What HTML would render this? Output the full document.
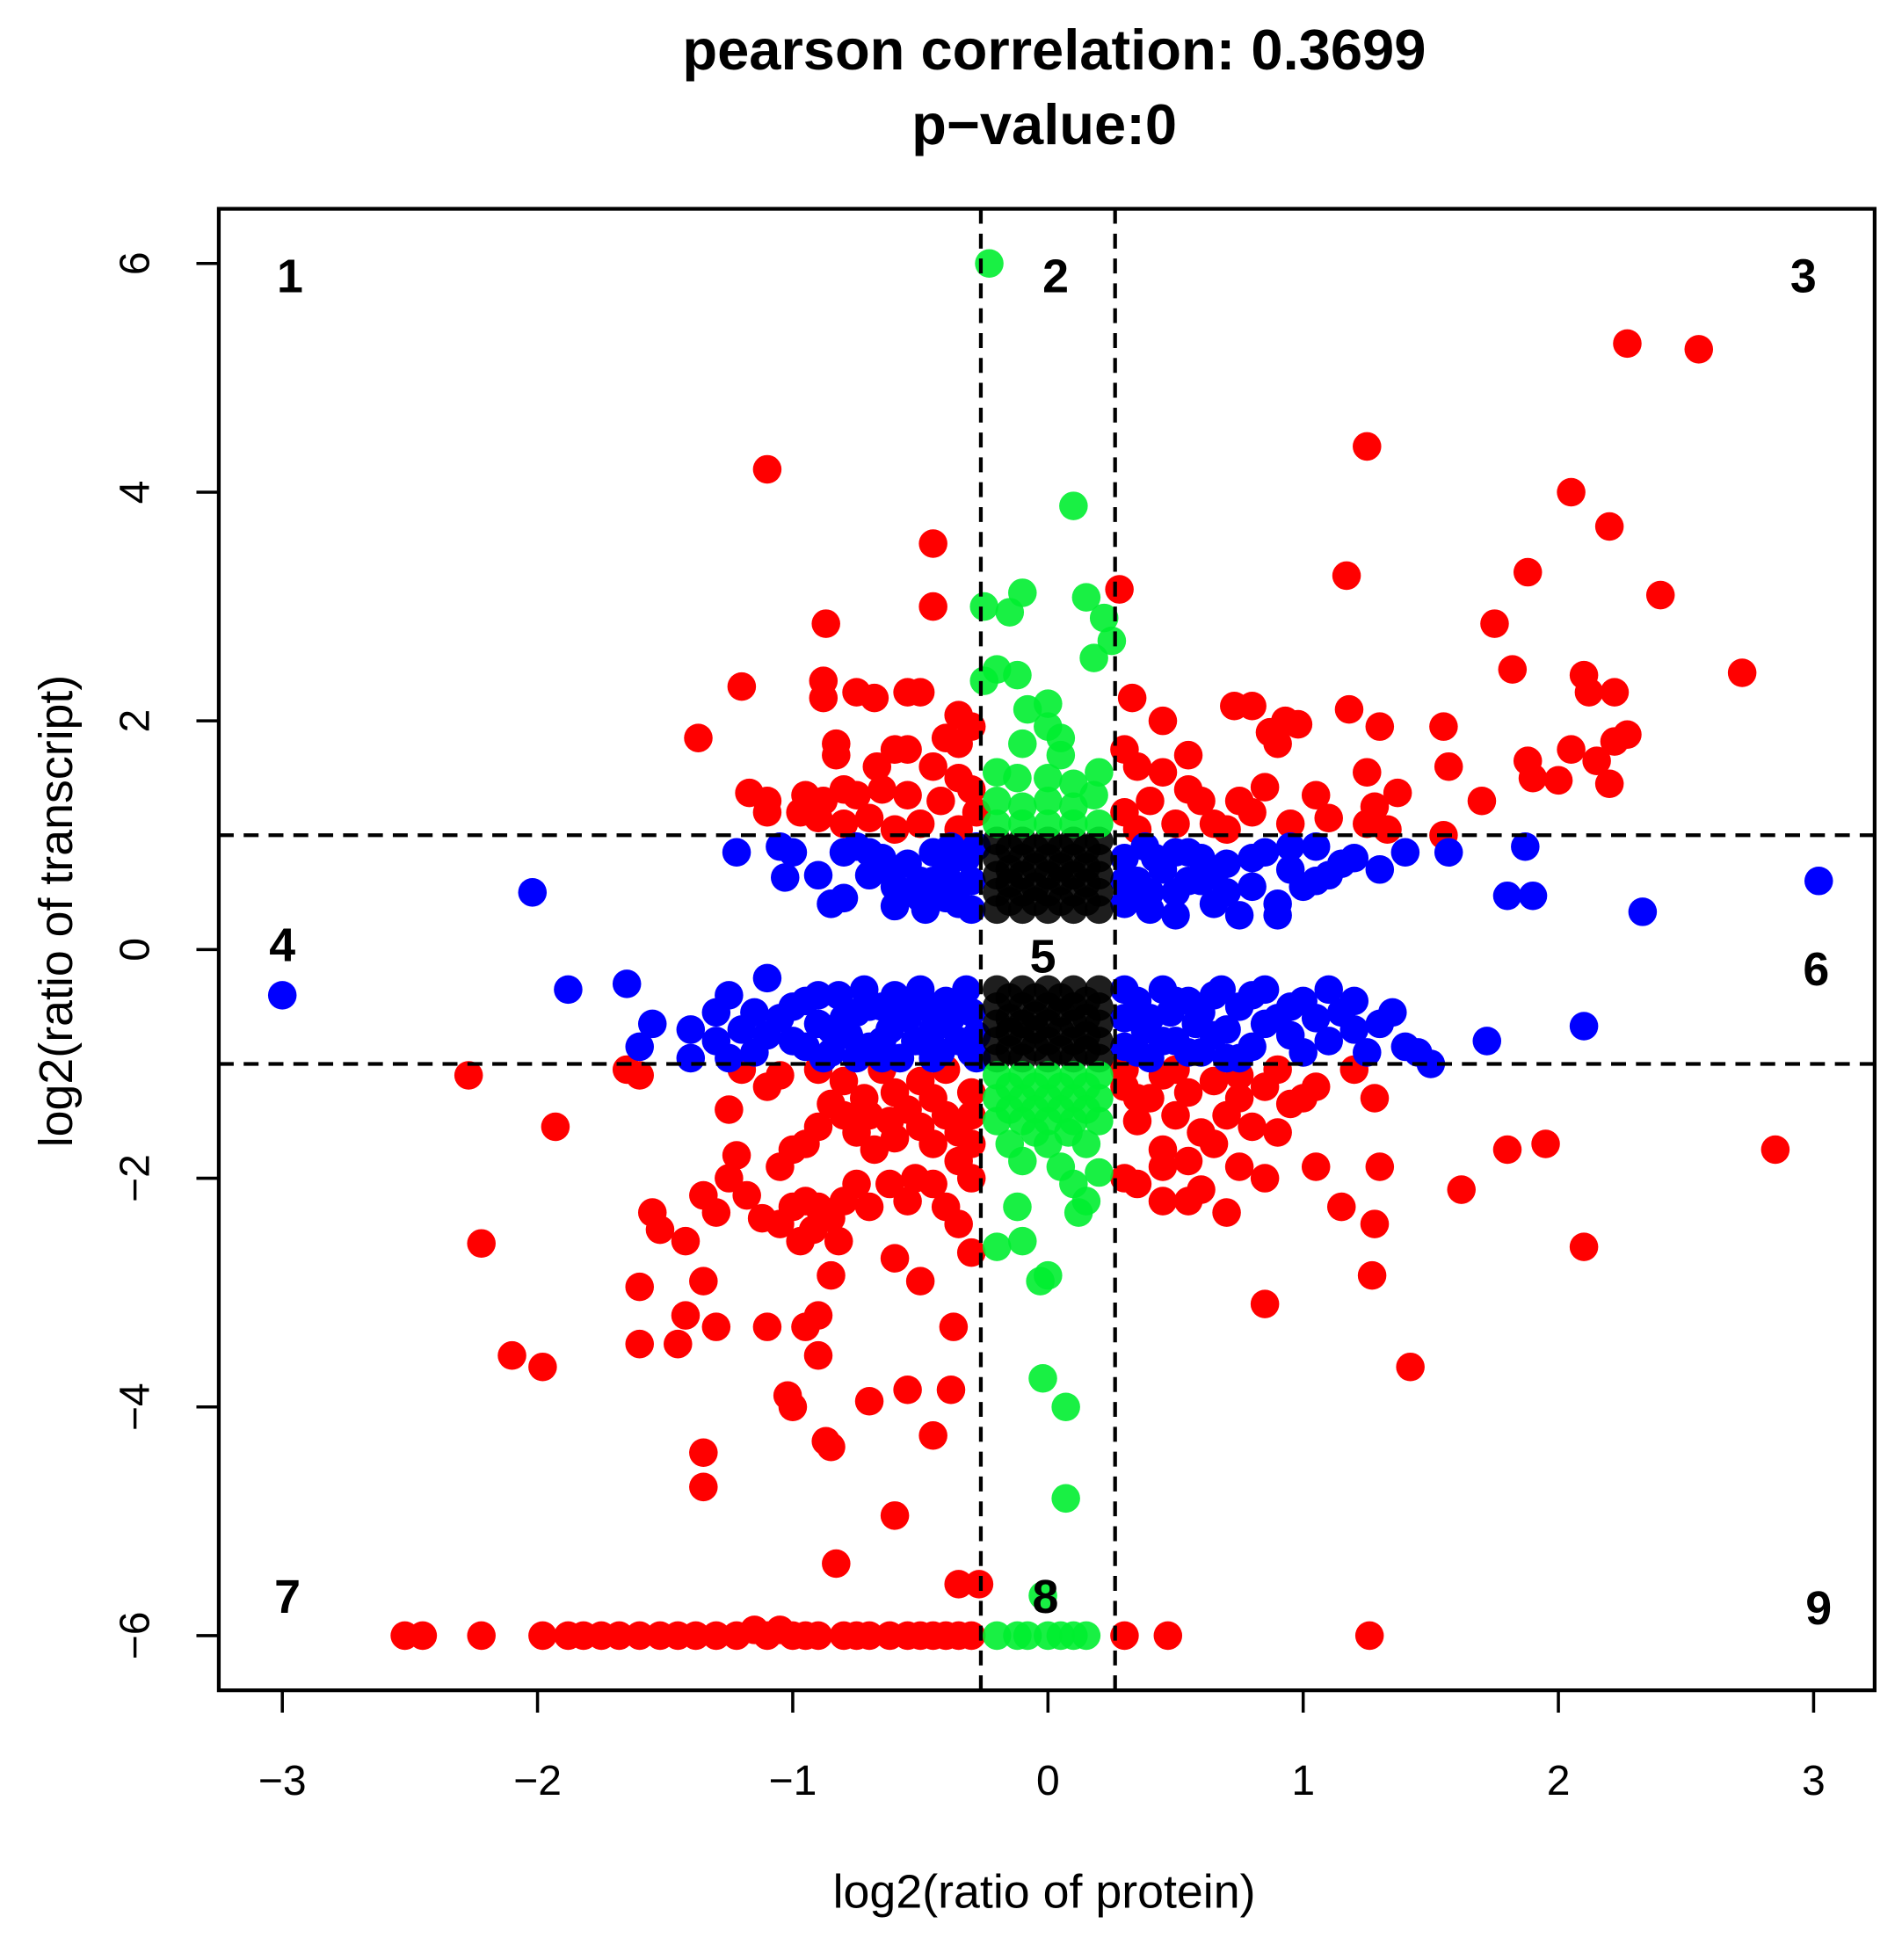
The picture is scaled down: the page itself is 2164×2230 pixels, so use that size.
<!DOCTYPE html>
<html><head><meta charset="utf-8"><style>
html,body{margin:0;padding:0;background:#fff}
svg{display:block}
text{font-family:"Liberation Sans",Arial,sans-serif;fill:#000}
</style></head><body>
<svg id="chart" width="2164" height="2230" viewBox="0 0 1530 1577" preserveAspectRatio="none" xmlns="http://www.w3.org/2000/svg">
<rect width="1530" height="1577" fill="#fff"/>
<text x="848" y="56" font-size="46" font-weight="bold" text-anchor="middle">pearson correlation: 0.3699</text>
<text x="840" y="116" font-size="46" font-weight="bold" text-anchor="middle">p−value:0</text>
<g id="marks"></g>
<g id="axes"></g>
<text x="840" y="1535" font-size="38" text-anchor="middle">log2(ratio of protein)</text>
<text transform="translate(58,733) rotate(-90)" font-size="38" text-anchor="middle">log2(ratio of transcript)</text>
</svg>
<script>
const xTicks=[-3,-2,-1,0,1,2,3];
const yTicks=[-6,-4,-2,0,2,4,6];
const xTickLabels=["−3","−2","−1","0","1","2","3"];
const yTickLabels=["−6","−4","−2","0","2","4","6"];
const xCut=[-0.263,0.263];
const yCut=[-1,1];
const regionLabels=["1","2","3","4","5","6","7","8","9"];
const regionX=[-2.97,0.03,2.96,-3.0,-0.02,3.01,-2.98,-0.01,3.02];
const regionY=[5.9,5.9,5.9,0.05,-0.05,-0.16,-5.65,-5.65,-5.75];
const redPts=[[-1.1,4.2],[-0.45,3.55],[-0.45,3.0],[-0.87,2.85],[-1.2,2.3],[-0.88,2.35],[-0.88,2.2],[-0.75,2.25],[-0.68,2.2],[-0.55,2.25],[-0.5,2.25],[-1.37,1.85],[-0.35,2.05],[-0.3,1.95],[-0.4,1.85],[-0.35,1.8],[-0.83,1.8],[-0.83,1.7],[-0.6,1.75],[-0.55,1.75],[-0.67,1.6],[-0.45,1.6],[-0.35,1.5],[-1.17,1.37],[-1.1,1.3],[-0.95,1.35],[-0.88,1.3],[-0.8,1.4],[-0.75,1.35],[-0.65,1.4],[-0.55,1.35],[-0.42,1.3],[-0.3,1.4],[-0.9,1.15],[-0.8,1.1],[-0.7,1.15],[-0.6,1.05],[-0.5,1.1],[-0.35,1.05],[-0.28,1.2],[-1.1,1.2],[-0.97,1.2],
[1.25,4.4],[2.27,5.3],[2.55,5.25],[2.05,4.0],[2.2,3.7],[1.17,3.27],[1.88,3.3],[2.4,3.1],[0.28,3.15],[1.75,2.85],[1.82,2.45],[2.72,2.42],[2.1,2.4],[2.12,2.25],[2.22,2.25],[0.33,2.2],[0.45,2.0],[0.73,2.13],[0.8,2.13],[0.93,2.0],[0.98,1.97],[1.18,2.1],[1.3,1.95],[1.55,1.95],[0.55,1.7],[0.87,1.9],[0.9,1.8],[2.05,1.75],[2.27,1.88],[2.22,1.82],[2.15,1.65],[1.88,1.65],[1.9,1.5],[1.57,1.6],[1.25,1.55],[2.0,1.48],[2.2,1.45],[1.37,1.37],[1.7,1.3],[1.28,1.25],[1.05,1.35],[0.85,1.42],[0.3,1.75],[0.35,1.6],[0.45,1.55],[0.55,1.4],[0.6,1.3],[0.75,1.3],[0.8,1.2],[0.3,1.2],[0.4,1.3],[0.5,1.1],[0.65,1.1],[0.7,1.05],[0.95,1.1],[1.25,1.1],[1.33,1.05],[1.55,1.0],[1.1,1.15],[0.35,1.05],
[-2.27,-1.1],[-1.93,-1.55],[-1.6,-1.1],[-1.65,-1.05],[-1.55,-2.3],[-1.52,-2.45],[-1.42,-2.55],[-1.35,-2.15],[-1.3,-2.3],[-1.25,-2.0],[-1.22,-1.8],[-1.25,-1.4],[-1.1,-1.2],[-1.05,-1.9],[-1.0,-1.75],[-0.95,-1.7],[-0.9,-1.55],[-0.85,-1.35],[-0.8,-1.45],[-0.75,-1.6],[-0.72,-1.3],[-0.68,-1.75],[-0.62,-1.5],[-0.6,-1.25],[-0.55,-1.4],[-0.5,-1.55],[-0.45,-1.7],[-0.4,-1.45],[-0.35,-1.6],[-0.3,-1.25],[-0.35,-1.85],[-0.45,-2.05],[-0.52,-2.0],[-0.55,-2.2],[-0.62,-2.05],[-0.7,-2.25],[-0.75,-2.05],[-0.8,-2.2],[-0.85,-2.35],[-0.9,-2.25],[-0.95,-2.2],[-1.0,-2.25],[-1.05,-2.4],[-1.12,-2.35],[-1.18,-2.15],[-0.4,-2.25],[-0.35,-2.4],[-0.3,-2.65],[-0.92,-2.45],[-0.82,-2.55],[-0.97,-2.55],[-2.22,-2.57],[-1.6,-2.95],[-1.35,-2.9],[-1.3,-3.3],[-1.42,-3.2],[-1.45,-3.45],[-1.6,-3.45],[-1.1,-3.3],[-0.95,-3.3],[-0.9,-3.2],[-0.9,-3.55],[-0.85,-2.85],[-0.6,-2.7],[-0.5,-2.9],[-0.37,-3.3],[-2.1,-3.55],[-1.98,-3.65],[-1.02,-3.9],[-1.0,-4.0],[-0.7,-3.95],[-0.55,-3.85],[-0.38,-3.85],[-0.87,-4.3],[-0.85,-4.35],[-0.45,-4.25],[-1.35,-4.4],[-1.35,-4.7],[-0.6,-4.95],[-0.83,-5.37],[-0.35,-5.55],[-0.27,-5.55],
[-1.2,-1.05],[-1.05,-1.1],[-0.9,-1.05],[-0.8,-1.15],[-0.65,-1.05],[-0.5,-1.15],[-0.4,-1.05],[-0.7,-1.45],[-0.6,-1.65],[-0.45,-1.3],[-0.3,-1.45],[-0.3,-1.7],[-0.3,-2.0],
[-2.52,-6],[-2.45,-6],[-2.22,-6],[-1.98,-6],[-1.88,-6],[-1.82,-6],[-1.75,-6],[-1.68,-6],[-1.6,-6],[-1.52,-6],[-1.45,-6],[-1.38,-6],[-1.3,-6],[-1.22,-6],[-1.15,-5.95],[-1.1,-6],[-1.05,-5.95],[-1.0,-6],[-0.95,-6],[-0.9,-6],[-0.8,-6],[-0.75,-6],[-0.7,-6],[-0.62,-6],[-0.55,-6],[-0.5,-6],[-0.45,-6],[-0.4,-6],[-0.35,-6],[-0.3,-6],[0.3,-6],[0.47,-6],[1.26,-6],
[0.3,-1.2],[0.35,-1.5],[0.3,-1.05],[0.4,-1.3],[0.45,-1.1],[0.5,-1.45],[0.55,-1.25],[0.6,-1.6],[0.65,-1.15],[0.7,-1.45],[0.75,-1.3],[0.8,-1.55],[0.85,-1.2],[0.9,-1.6],[0.95,-1.35],[1.05,-1.2],[1.2,-1.05],[0.45,-1.75],[0.55,-1.85],[0.65,-1.7],[0.75,-1.9],[0.85,-2.0],[0.35,-2.05],[0.45,-1.9],[0.3,-2.0],[0.6,-2.1],[0.55,-2.2],[0.45,-2.2],[0.7,-2.3],[1.05,-1.9],[1.15,-2.25],[1.3,-1.9],[1.28,-2.4],[1.28,-1.3],[1.27,-2.85],[0.85,-3.1],[1.42,-3.65],[1.62,-2.1],[1.8,-1.75],[1.95,-1.7],[2.1,-2.6],[2.85,-1.75],[0.35,-1.3],[0.5,-1.05],[0.75,-1.1],[0.9,-1.05],[1.0,-1.3]];
const bluePts=[[-2.02,0.5],[-1.22,0.85],[-1.05,0.9],[-1.0,0.85],[-1.03,0.63],[-0.9,0.65],[-0.85,0.4],[-0.8,0.45],[-0.8,0.85],[-0.75,0.9],[-0.7,0.65],[-0.65,0.8],[-0.6,0.55],[-0.6,0.38],[-0.55,0.75],[-0.55,0.5],[-0.5,0.6],[-0.48,0.35],[-0.45,0.85],[-0.4,0.7],[-0.4,0.45],[-0.35,0.55],[-0.32,0.8],[-0.3,0.35],[-0.28,0.9],[-0.3,0.6],[-0.45,0.6],[0.3,0.8],[0.3,0.4],[0.35,0.6],[0.38,0.9],[0.4,0.35],[0.45,0.7],[0.5,0.5],[0.55,0.85],[0.5,0.3],[0.6,0.6],[0.65,0.4],[0.7,0.75],[0.75,0.3],[0.8,0.55],[0.85,0.85],[0.9,0.4],[0.95,0.7],[1.0,0.55],[1.05,0.9],[1.1,0.65],[1.15,0.75],[1.3,0.7],[1.4,0.85],[1.57,0.85],[1.87,0.9],[1.8,0.47],[1.9,0.47],[2.33,0.33],[3.02,0.6],[0.9,0.3],[1.05,0.6],[0.3,0.6],[0.4,0.5],[0.5,0.85],[0.6,0.8],
[-0.35,0.4],[-0.38,0.9],[-0.5,0.45],[-0.62,0.7],[-0.7,0.85],[0.35,0.45],[0.42,0.8],[0.55,0.6],[0.7,0.5],[0.8,0.8],[0.95,0.9],[1.2,0.8],[0.65,0.65],
[-3.0,-0.4],[-1.88,-0.35],[-1.65,-0.3],[-1.6,-0.85],[-1.55,-0.65],[-1.4,-0.95],[-1.3,-0.55],[-1.25,-0.4],[-1.2,-0.7],[-1.15,-0.55],[-1.15,-0.9],[-1.1,-0.25],[-1.05,-0.6],[-1.0,-0.8],[-0.95,-0.45],[-0.9,-0.65],[-0.85,-0.9],[-0.82,-0.4],[-0.78,-0.75],[-0.75,-0.55],[-0.72,-0.35],[-0.7,-0.85],[-0.65,-0.5],[-0.62,-0.7],[-0.6,-0.4],[-0.58,-0.95],[-0.55,-0.6],[-0.52,-0.8],[-0.5,-0.35],[-0.48,-0.5],[-0.45,-0.7],[-0.42,-0.9],[-0.4,-0.45],[-0.38,-0.6],[-0.35,-0.8],[-0.32,-0.35],[-0.3,-0.55],[-0.28,-0.75],[-0.28,-0.95],[-0.45,-0.95],[-0.65,-0.95],[-0.8,-0.6],[-0.95,-0.85],[-0.6,-0.6],[-0.7,-0.5],[-0.5,-0.8],[-0.4,-0.65],[-0.35,-0.5],[-0.85,-0.7],[-1.3,-0.8],
[-1.0,-0.5],[-1.1,-0.75],[-0.9,-0.4],[-0.75,-0.95],[-0.55,-0.45],[-0.3,-0.9],[-0.45,-0.55],[-0.65,-0.8],[-1.4,-0.7],[-1.25,-0.95],[-0.88,-0.95],
[0.3,-0.35],[0.3,-0.6],[0.3,-0.85],[0.35,-0.45],[0.38,-0.7],[0.4,-0.95],[0.45,-0.35],[0.48,-0.55],[0.5,-0.8],[0.55,-0.45],[0.58,-0.65],[0.6,-0.9],[0.65,-0.4],[0.7,-0.7],[0.75,-0.5],[0.8,-0.85],[0.85,-0.35],[0.9,-0.6],[0.95,-0.75],[1.0,-0.45],[1.05,-0.6],[1.1,-0.35],[1.15,-0.55],[1.2,-0.7],[1.25,-0.9],[1.3,-0.65],[1.35,-0.55],[1.4,-0.85],[1.45,-0.9],[1.5,-1.0],[1.72,-0.8],[2.1,-0.67],[0.4,-0.6],[0.5,-0.45],[0.65,-0.75],[0.75,-0.95],[0.55,-0.9],[0.35,-0.9],
[0.45,-0.8],[0.6,-0.55],[0.7,-0.95],[0.8,-0.4],[0.85,-0.65],[1.0,-0.9],[1.1,-0.8],[1.2,-0.45],[0.95,-0.5],[0.68,-0.35]];
const greenPts=[[-0.23,6.0],[0.1,3.88],[-0.1,3.12],[-0.25,3.0],[0.15,3.08],[0.22,2.9],[0.25,2.7],[0.18,2.55],[-0.15,2.95],[-0.2,2.45],[-0.12,2.4],[-0.25,2.35],[0.0,2.15],[-0.08,2.1],[0.0,1.95],[-0.1,1.8],[0.05,1.7],[-0.2,1.55],[-0.12,1.5],[0.0,1.5],[0.1,1.45],[0.2,1.55],[-0.2,1.3],[-0.1,1.25],[0.0,1.3],[0.1,1.25],[0.18,1.35],[-0.2,1.1],[-0.1,1.1],[0.0,1.1],[0.1,1.1],[0.2,1.1],[0.05,1.85],
[-0.2,-1.1],[-0.1,-1.1],[0,-1.1],[0.1,-1.1],[0.2,-1.1],[-0.2,-1.3],[-0.1,-1.3],[0,-1.3],[0.1,-1.3],[0.2,-1.3],[-0.2,-1.5],[-0.1,-1.5],[0,-1.5],[0.1,-1.5],[0.2,-1.5],[-0.15,-1.7],[0,-1.7],[0.15,-1.7],[-0.1,-1.85],[0.05,-1.9],[0.2,-1.95],[0.1,-2.05],[0.15,-2.2],[0.12,-2.3],[-0.12,-2.25],[-0.2,-2.6],[-0.1,-2.55],[0.0,-2.85],[-0.03,-2.9],[-0.02,-3.75],[0.07,-4.0],[0.07,-4.8],[-0.02,-5.65],[-0.2,-6],[-0.12,-6],[-0.08,-6],[0,-6],[0.05,-6],[0.1,-6],[0.15,-6],
[-0.15,-1.2],[-0.05,-1.2],[0.05,-1.2],[0.15,-1.2],[-0.15,-1.4],[-0.05,-1.4],[0.05,-1.4],[0.15,-1.4],[-0.05,-1.6],[0.08,-1.6]];
const blackPts=[[-0.2,0.35],[-0.1,0.35],[0,0.35],[0.1,0.35],[0.2,0.35],[-0.2,0.5],[-0.1,0.5],[0,0.5],[0.1,0.5],[0.2,0.5],[-0.2,0.65],[-0.1,0.65],[0,0.65],[0.1,0.65],[0.2,0.65],[-0.2,0.8],[-0.1,0.8],[0,0.8],[0.1,0.8],[0.2,0.8],[-0.2,0.95],[-0.1,0.95],[0,0.95],[0.1,0.95],[0.2,0.95],[-0.05,0.55],[0.05,0.6],[-0.15,0.7],
[-0.15,0.42],[-0.05,0.42],[0.05,0.42],[0.15,0.42],[-0.15,0.58],[0.15,0.58],[-0.05,0.72],[0.05,0.72],[0.15,0.72],[-0.15,0.88],[-0.05,0.88],[0.05,0.88],[0.15,0.88],
[-0.2,-0.35],[-0.1,-0.35],[0,-0.35],[0.1,-0.35],[0.2,-0.35],[-0.2,-0.5],[-0.1,-0.5],[0,-0.5],[0.1,-0.5],[0.2,-0.5],[-0.2,-0.65],[-0.1,-0.65],[0,-0.65],[0.1,-0.65],[0.2,-0.65],[-0.2,-0.8],[-0.1,-0.8],[0,-0.8],[0.1,-0.8],[0.2,-0.8],[-0.2,-0.95],[-0.1,-0.95],[0,-0.95],[0.1,-0.95],[0.2,-0.95],[-0.15,-0.6],[-0.05,-0.7],[0.05,-0.55],[0.15,-0.75],[-0.05,-0.85],[0.15,-0.45],
[-0.15,-0.42],[-0.05,-0.42],[0.05,-0.42],[-0.15,-0.72],[0.05,-0.72],[-0.15,-0.88],[0.05,-0.88],[0.15,-0.88],[-0.05,-0.58],[0.15,-0.6]];

const L=176,R=1508,T=168,B=1360;
function sx(v){return 843+v*205.3;}
function sy(v){return 764-v*92;}
const NS="http://www.w3.org/2000/svg";
const marks=document.getElementById('marks');
const axes=document.getElementById('axes');
function mk(tag,attrs,parent){const e=document.createElementNS(NS,tag);for(const k in attrs)e.setAttribute(k,attrs[k]);parent.appendChild(e);return e;}
function drawSeries(pts,color,op,name){
  pts.forEach(p=>{
    const c=mk('circle',{cx:sx(p[0]),cy:sy(p[1]),r:11.5,fill:color,'fill-opacity':op},marks);
    
    
  });
}
drawSeries(redPts,'#ff0000',1,'red-point');
drawSeries(bluePts,'#0000ff',1,'blue-point');
drawSeries(blackPts,'#000000',0.7,'black-point');
drawSeries(blackPts,'#000000',0.6,'black-point');
drawSeries(greenPts,'#00ee30',0.9,'green-point');
const box=mk('rect',{x:L,y:T,width:R-L,height:B-T,fill:'none',stroke:'#000','stroke-width':3},axes);


xCut.forEach(v=>{
  const l=mk('line',{x1:sx(v),x2:sx(v),y1:T,y2:B,stroke:'#000','stroke-width':3,'stroke-dasharray':'12 8'},axes);
  
  
});
yCut.forEach(v=>{
  const l=mk('line',{x1:L,x2:R,y1:sy(v),y2:sy(v),stroke:'#000','stroke-width':3,'stroke-dasharray':'12 8'},axes);
  
  
});
xTicks.forEach((v,i)=>{
  const l=mk('line',{x1:sx(v),x2:sx(v),y1:B,y2:B+18,stroke:'#000','stroke-width':2.5},axes);
  
  
  const t=mk('text',{x:sx(v),y:1444,'font-size':34,'text-anchor':'middle'},axes);
  t.textContent=xTickLabels[i];
  
  
});
yTicks.forEach((v,i)=>{
  const l=mk('line',{x1:L-18,x2:L,y1:sy(v),y2:sy(v),stroke:'#000','stroke-width':2.5},axes);
  
  
  const t=mk('text',{transform:`translate(120,${sy(v)}) rotate(-90)`,'font-size':34,'text-anchor':'middle'},axes);
  t.textContent=yTickLabels[i];
  
  
});
regionLabels.forEach((s,i)=>{
  const t=mk('text',{x:sx(regionX[i]),y:sy(regionY[i])+14,'font-size':38,'font-weight':'bold','text-anchor':'middle'},axes);
  t.textContent=s;
  
  
});
</script>
</body></html>
